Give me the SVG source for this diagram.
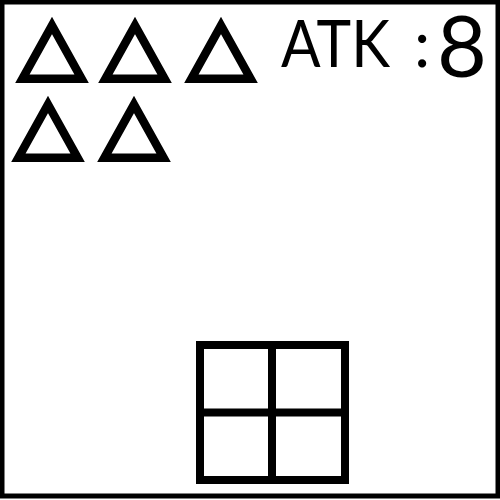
<svg xmlns="http://www.w3.org/2000/svg" width="500" height="500" viewBox="0 0 500 500">
<style>
.tri{fill:none;stroke:#000;stroke-width:8.5;stroke-linejoin:miter;stroke-miterlimit:10}
.grid{fill:none;stroke:#000;stroke-width:8}
.lbl{font-family:Lato,"Open Sans","Liberation Sans",sans-serif;fill:#000}
</style>
<defs>
<polygon id="t" points="0,0 29.6,53.25 -29.6,53.25"/>
</defs>
<rect x="2" y="2" width="496" height="494" fill="#fff" stroke="#000" stroke-width="5"/>
<g id="triangles">
<g id="tri1"><use href="#t" class="tri" x="52" y="25.5"/></g>
<g id="tri2"><use href="#t" class="tri" x="135" y="25.5"/></g>
<g id="tri3"><use href="#t" class="tri" x="221" y="25.5"/></g>
<g id="tri4"><use href="#t" class="tri" x="48" y="104.5"/></g>
<g id="tri5"><use href="#t" class="tri" x="134" y="104.5"/></g>
</g>
<g id="label">
<text class="lbl" x="281" y="67" font-size="65"><tspan textLength="109" lengthAdjust="spacingAndGlyphs">ATK</tspan><tspan x="412"> </tspan><tspan x="414">:</tspan></text>
<text class="lbl" x="437" y="77" font-size="86">8</text>
</g>
<g id="grid">
<rect class="grid" x="200" y="345" width="145" height="135"/>
<line class="grid" x1="272" y1="345" x2="272" y2="480"/>
<line class="grid" x1="200" y1="412.5" x2="345" y2="412.5"/>
</g>
</svg>
